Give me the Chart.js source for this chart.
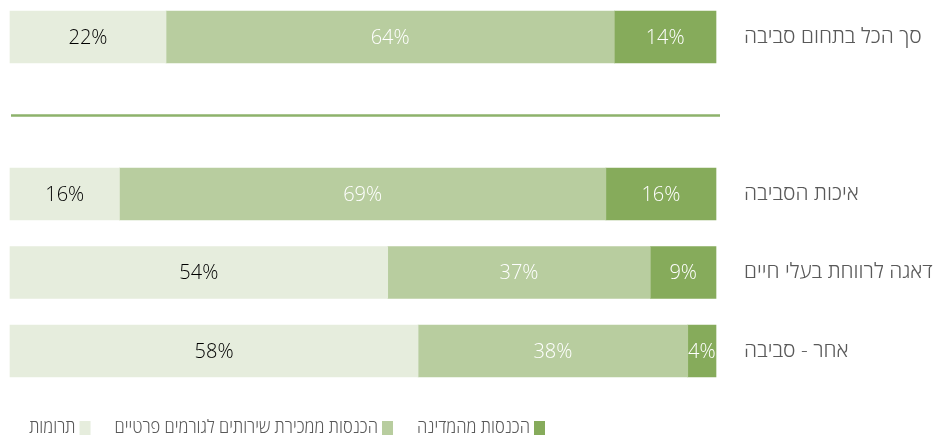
<!DOCTYPE html>
<html>
<head>
<meta charset="utf-8">
<script src="https://cdn.jsdelivr.net/npm/chart.js@4/dist/chart.umd.min.js"></script>
<style>
  html, body { margin: 0; padding: 0; background: #ffffff; }
  #wrap { width: 948px; height: 435px; position: relative; }
</style>
</head>
<body>
<div id="wrap"><canvas id="c" width="948" height="435"></canvas></div>
<script>
// ---- data ----
const categories = ['סך הכל בתחום סביבה', '', 'איכות הסביבה', 'דאגה לרווחת בעלי חיים', 'אחר - סביבה'];
const seriesNames = ['תרומות', 'הכנסות ממכירת שירותים לגורמים פרטיים', 'הכנסות מהמדינה'];
const donations = [22.1, null, 15.5, 53.5, 57.8];
const privateSales = [63.5, null, 68.9, 37.2, 38.2];
const government = [14.4, null, 15.6, 9.3, 4.0];

const colors = ['#E6EDDD', '#B8CD9F', '#86AB5B'];
const labelColors = ['#000000', '#FFFFFF', '#FFFFFF'];
const FONT = "'Open Sans', 'Liberation Sans', 'DejaVu Sans', sans-serif";

// separator line drawn at the empty category slot
const separatorPlugin = {
  id: 'separator',
  beforeDatasetsDraw(chart) {
    const y = chart.scales.y.getPixelForValue(1);
    const ctx = chart.ctx;
    ctx.save();
    ctx.strokeStyle = '#8DB26B';
    ctx.lineWidth = 2.5;
    ctx.beginPath();
    ctx.moveTo(chart.chartArea.left + 1, y);
    ctx.lineTo(chart.chartArea.right + 4, y);
    ctx.stroke();
    ctx.restore();
  }
};

// value labels centered in each segment
const valueLabelPlugin = {
  id: 'valueLabels',
  afterDatasetsDraw(chart) {
    const ctx = chart.ctx;
    ctx.save();
    ctx.font = "300 20px " + FONT;
    ctx.textAlign = 'center';
    ctx.textBaseline = 'middle';
    chart.data.datasets.forEach((ds, di) => {
      const meta = chart.getDatasetMeta(di);
      meta.data.forEach((bar, i) => {
        const v = ds.data[i];
        if (v === null || v === undefined) return;
        const left = Math.min(bar.x, bar.base), right = Math.max(bar.x, bar.base);
        ctx.fillStyle = labelColors[di];
        ctx.fillText(Math.round(v) + '%', (left + right) / 2, bar.y + 1);
      });
    });
    ctx.restore();
  }
};

// RTL legend at bottom (box on right of text), items ordered right-to-left
const legendPlugin = {
  id: 'customLegend',
  afterDraw(chart) {
    const ctx = chart.ctx;
    ctx.save();
    ctx.font = "300 18px " + FONT;
    ctx.textBaseline = 'middle';
    const sx = 0.92;
    let x = 545;             // right edge of the first legend box
    const y = 428;
    const order = [2, 1, 0];
    order.forEach(di => {
      const ds = chart.data.datasets[di];
      ctx.fillStyle = ds.backgroundColor;
      ctx.fillRect(x - 11, y - 7, 11, 14);
      const w = ctx.measureText(ds.label).width * sx;
      const tx = x - 15;
      ctx.save();
      ctx.translate(tx - w, y);
      ctx.scale(sx, 1);
      ctx.direction = 'rtl';
      ctx.textAlign = 'left';
      ctx.fillStyle = '#595959';
      ctx.fillText(ds.label, 0, 0);
      ctx.restore();
      x = tx - w - 24;
    });
    ctx.restore();
  }
};

new Chart(document.getElementById('c'), {
  type: 'bar',
  data: {
    labels: categories,
    datasets: [
      { label: seriesNames[0], data: donations, backgroundColor: colors[0] },
      { label: seriesNames[1], data: privateSales, backgroundColor: colors[1] },
      { label: seriesNames[2], data: government, backgroundColor: colors[2] }
    ]
  },
  options: {
    indexAxis: 'y',
    responsive: false,
    animation: false,
    devicePixelRatio: 1,
    layout: { padding: { left: 10, right: 0, top: 37, bottom: 84 } },
    datasets: { bar: { barThickness: 52, borderWidth: 0, clip: false } },
    scales: {
      x: {
        stacked: true, min: 0, max: 100, display: false
      },
      y: {
        stacked: true,
        position: 'right',
        offset: false,
        grid: { display: false },
        border: { display: false },
        ticks: {
          color: '#595959',
          padding: 20,
          font: { family: FONT, size: 21, weight: '300' },
          crossAlign: 'near'
        },
        afterFit(scale) { scale.width = 232; }
      }
    },
    plugins: {
      legend: { display: false },
      tooltip: { enabled: false }
    }
  },
  plugins: [separatorPlugin, valueLabelPlugin, legendPlugin]
});
</script>
</body>
</html>
